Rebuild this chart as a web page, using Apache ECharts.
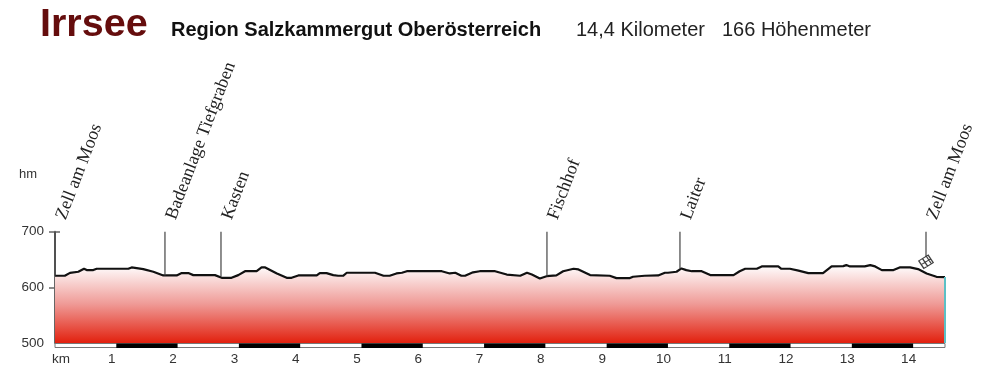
<!DOCTYPE html>
<html><head><meta charset="utf-8">
<style>html,body{margin:0;padding:0;background:#fff}#c{width:1000px;height:369px}</style>
<script src="https://cdn.jsdelivr.net/npm/echarts@6/dist/echarts.min.js"></script>
</head><body><div id="c"></div>
<script>
const profileKm = [0,.16,.245,.38,.473,.517,.625,.68,1.196,1.25,1.332,1.44,1.604,1.767,1.985,2.067,2.175,2.256,2.61,2.72,2.88,2.99,3.10,3.29,3.37,3.43,3.62,3.78,3.86,3.97,4.27,4.32,4.43,4.54,4.62,4.70,4.76,5.22,5.36,5.46,5.57,5.66,5.74,6.31,6.44,6.53,6.63,6.69,6.82,6.93,7.18,7.37,7.59,7.70,7.78,7.91,8.02,8.18,8.29,8.46,8.54,8.73,9.05,9.16,9.38,9.43,9.62,9.84,9.95,10.00,10.14,10.22,10.30,10.39,10.55,10.69,11.07,11.17,11.26,11.45,11.53,11.80,11.85,11.99,12.13,12.29,12.53,12.67,12.86,12.91,12.97,13.21,13.30,13.38,13.49,13.68,13.78,13.95,14.08,14.22,14.38,14.52];
const profileHm = [620.8,620.8,626,628,633.4,631,631,633.4,633.4,635.8,634.6,632.8,628,621.4,621.4,625.6,625.6,622,622,617.2,617.2,622,629,629,635.8,635.8,625,617.2,617.2,621.4,621.4,625.6,625.6,622,620.8,620.8,626.2,626.2,620.8,620.8,625,626.2,629,629,625,626.2,620.8,620.8,627,629,629,623,620.8,626.2,623,616,620,621.4,629,633.4,632.2,622,620.8,616.6,616.6,619,620.8,621.4,626.2,626.2,628,634,631,629,629,622,622,629,633.4,633.4,637.6,637.6,633.4,633.4,630,625.6,625.6,637.6,638.2,640,637.6,637.6,640,637.6,631,631,635.8,635.8,632.8,625,619,618.4];
const placeNames = ['Zell am Moos','Badeanlage Tiefgraben','Kasten','Fischhof','Laiter','Zell am Moos'];
const placeKm = [0,1.794,2.708,8.026,10.196,14.21];
const placeBase = [620.8,621.4,620,620,634,655];
const blackKmStart = [1,3,5,7,9,11,13];
const kmEnd = 14.52;
const yTicks = [500,600,700];
const finishFlag = [14.21,646];

const chart = echarts.init(document.getElementById('c'));
chart.setOption({
  animation:false,
  backgroundColor:'#fff',
  title:[
    {text:'Irrsee',left:35,top:0,textStyle:{fontFamily:'Liberation Sans',fontWeight:'bold',fontSize:39.5,color:'#650d0d'}},
    {text:'Region Salzkammergut Oberösterreich',left:166,top:15,textStyle:{fontFamily:'Liberation Sans',fontWeight:'bold',fontSize:20,color:'#111'}},
    {text:'14,4 Kilometer',left:571,top:15,textStyle:{fontFamily:'Liberation Sans',fontWeight:'normal',fontSize:20,color:'#222'}},
    {text:'166 Höhenmeter',left:717,top:15,textStyle:{fontFamily:'Liberation Sans',fontWeight:'normal',fontSize:20,color:'#222'}},
    {text:'hm',left:14,top:163,textStyle:{fontFamily:'Liberation Sans',fontWeight:'normal',fontSize:13,color:'#333'}}
  ],
  grid:{left:55,right:55,top:231.7,bottom:26,containLabel:false},
  xAxis:{type:'value',min:0,max:kmEnd,interval:1,
    axisLine:{show:false},axisTick:{show:false},splitLine:{show:false},
    axisLabel:{show:true,margin:9,showMaxLabel:false,fontFamily:'Liberation Sans',fontSize:13.5,color:'#333',
      formatter:v=>v===0?'{k|km}':'{n|'+v+'}',
      rich:{n:{padding:[0,9,0,0],fontFamily:'Liberation Sans',fontSize:13.5,color:'#333'},
            k:{padding:[0,0,0,12],fontFamily:'Liberation Sans',fontSize:13.5,color:'#333'}}}},
  yAxis:[
    {type:'value',min:500,max:700,interval:100,
     axisLine:{show:true,lineStyle:{color:'#666',width:2}},
     axisTick:{show:true,length:6,customValues:[600,700],lineStyle:{color:'#666',width:1.5}},
     splitLine:{show:false},
     axisLabel:{margin:11,customValues:yTicks,fontFamily:'Liberation Sans',fontSize:13.5,color:'#333'}},
    {type:'value',min:500,max:700,interval:100,position:'left',
     axisLine:{show:false},axisLabel:{show:false},splitLine:{show:false},
     axisTick:{show:true,inside:true,length:5,customValues:[600,700],lineStyle:{color:'#666',width:1.5}}}
  ],
  series:[
    {type:'line',data:profileKm.map((k,i)=>[k,profileHm[i]]),symbol:'none',smooth:false,z:3,
     lineStyle:{color:'#111',width:2.2},
     areaStyle:{origin:'start',opacity:1,color:new echarts.graphic.LinearGradient(0,0,0,1,[
       {offset:0,color:'#ffffff'},{offset:0.5,color:'#ef9a96'},{offset:1,color:'#e2200e'}])}},
    {type:'line',data:[[kmEnd,500],[kmEnd,profileHm[profileHm.length-1]]],symbol:'none',z:4,
     lineStyle:{color:'#5cc0c6',width:2}},
    {type:'custom',coordinateSystem:'cartesian2d',clip:false,z:5,silent:true,
     data:[[0,kmEnd]],
     renderItem(p,api){
       const a=api.coord([api.value(0),500]),b=api.coord([api.value(1),500]);
       return {type:'rect',shape:{x:a[0],y:a[1]+0.5,width:b[0]-a[0],height:4},
         style:{fill:'#fff',stroke:'#777',lineWidth:1}};
     }},
    {type:'custom',coordinateSystem:'cartesian2d',clip:false,z:6,silent:true,
     data:blackKmStart.map(k=>[k,k+1]),
     renderItem(p,api){
       const a=api.coord([api.value(0),500]),b=api.coord([api.value(1),500]);
       return {type:'rect',shape:{x:a[0],y:a[1]+0.5,width:b[0]-a[0],height:4.5},style:{fill:'#000'}};
     }},
    {type:'custom',coordinateSystem:'cartesian2d',clip:false,z:7,silent:true,
     data:placeKm.map((k,i)=>[k,placeBase[i],placeNames[i]]),
     encode:{x:0,y:1},
     renderItem(p,api){
       const a=api.coord([api.value(0),700]),b=api.coord([api.value(0),api.value(1)]);
       const name=placeNames[p.dataIndex];
       return {type:'group',children:[
         {type:'line',shape:{x1:a[0],y1:a[1],x2:b[0],y2:b[1]},style:{stroke:'#444',lineWidth:1.2}},
         {type:'text',x:a[0]+6,y:a[1]-13,rotation:69*Math.PI/180,
          style:{text:name,fill:'#222',font:'18px "Liberation Serif"',align:'left',verticalAlign:'middle'}}
       ]};
     }},
    {type:'scatter',data:[finishFlag],z:8,symbolSize:[13,11],symbolRotate:20,
     symbol:'path://M0 2 L10 0 L12 8 L2 10 Z M4 1.2 L6 9.2 M8 .4 L10 8.4 M1 6 L11 4',
     itemStyle:{color:'#fff',borderColor:'#111',borderWidth:1.2}}
  ]
});
</script></body></html>
